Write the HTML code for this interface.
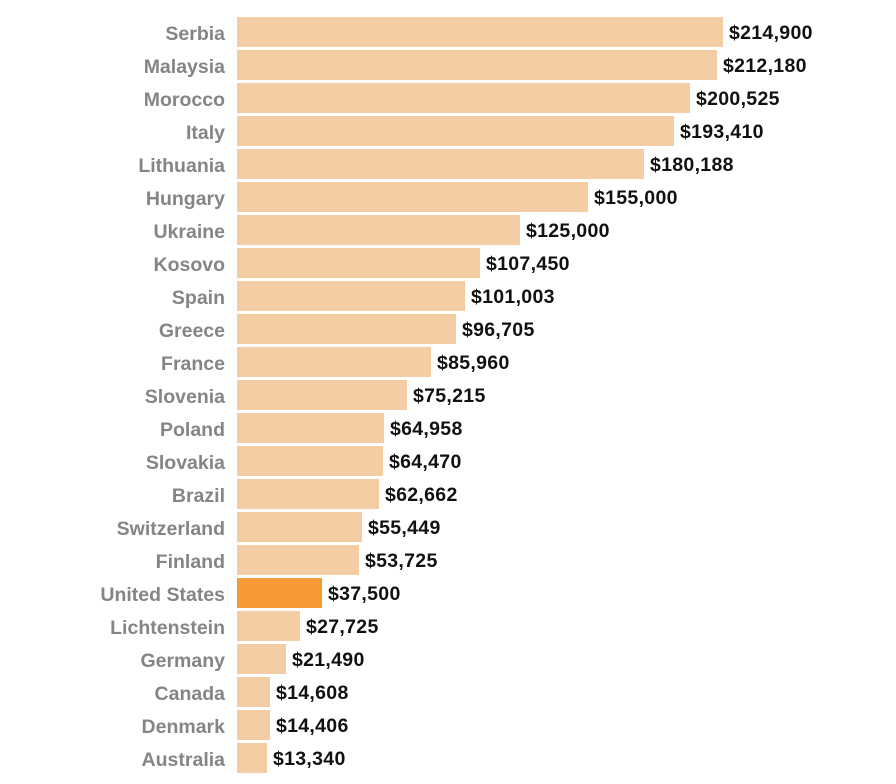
<!DOCTYPE html><html><head><style>
body{margin:0;background:#fff;width:896px;height:784px;position:relative;font-family:"Liberation Sans",sans-serif;font-weight:bold;font-size:19.5px}
.r{position:absolute;left:0;height:30px;width:896px}
.l{position:absolute;right:671px;top:2px;line-height:30px;color:#858585;white-space:nowrap}
.b{position:absolute;left:237px;top:0;height:30px;background:#f5cda4}
.v{position:absolute;top:1px;line-height:30px;color:#111;white-space:nowrap;letter-spacing:0.3px}
</style></head><body>
<script>
const d=[["Serbia",214900],["Malaysia",212180],["Morocco",200525],["Italy",193410],["Lithuania",180188],["Hungary",155000],["Ukraine",125000],["Kosovo",107450],["Spain",101003],["Greece",96705],["France",85960],["Slovenia",75215],["Poland",64958],["Slovakia",64470],["Brazil",62662],["Switzerland",55449],["Finland",53725],["United States",37500],["Lichtenstein",27725],["Germany",21490],["Canada",14608],["Denmark",14406],["Australia",13340]];
let h="";d.forEach((e,i)=>{const w=Math.round(e[1]*486/214900);h+=`<div class="r" style="top:${17+i*33}px"><div class="l">${e[0]}</div><div class="b" style="width:${w}px;${e[0]=="United States"?"background:#f79a35":""}"></div><div class="v" style="left:${237+w+6}px">$${e[1].toLocaleString("en-US")}</div></div>`});document.write(h);
</script></body></html>
